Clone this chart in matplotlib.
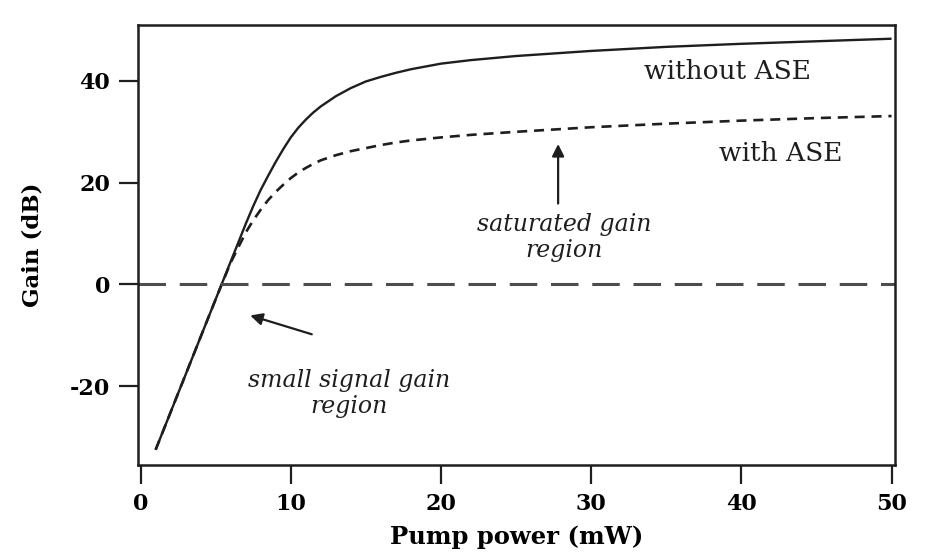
import matplotlib
matplotlib.use("Agg")
import matplotlib.pyplot as plt

# Pump power (mW) and gain (dB) for the two amplifier models
pump_mw = [1, 2, 3, 4, 5, 6, 7, 7.5, 8, 8.5, 9, 9.5, 10, 10.5, 11, 11.5, 12, 13, 14, 15,
           16, 17, 18, 20, 22, 25, 30, 35, 40, 45, 50]
gain_without_ase = [-32.5, -25.1, -17.7, -10.3, -2.9, 4.5, 11.9, 15.4, 18.6, 21.4, 24.1,
                    26.6, 28.9, 30.8, 32.4, 33.8, 35.0, 37.0, 38.6, 39.9, 40.8, 41.6,
                    42.3, 43.4, 44.1, 44.9, 45.9, 46.7, 47.3, 47.8, 48.3]
gain_with_ase = [-32.5, -25.1, -17.7, -10.3, -2.9, 4.3, 10.2, 12.6, 14.7, 16.6, 18.2,
                 19.6, 20.9, 22.0, 22.9, 23.7, 24.4, 25.4, 26.2, 26.8, 27.4, 27.9,
                 28.3, 28.9, 29.4, 30.0, 30.9, 31.6, 32.2, 32.7, 33.1]

x_ticks = [0, 10, 20, 30, 40, 50]
y_ticks = [-20, 0, 20, 40]

ink = "#1e1e1e"
serif = ["DejaVu Serif"]

fig = plt.figure(figsize=(9.5, 5.54), dpi=100)
ax = fig.add_axes([0.1453, 0.1606, 0.7968, 0.7943])

ax.plot(pump_mw, gain_without_ase, color=ink, lw=1.7, solid_capstyle="butt")
ax.plot(pump_mw, gain_with_ase, color=ink, lw=1.9, linestyle=(0, (3.8, 2.6)))
ax.axhline(0, color="#4d4d4d", lw=2.2, linestyle=(0, (9, 4.5)))

ax.set_xlim(-0.17, 50.23)
ax.set_ylim(-35.5, 51)
ax.set_xticks(x_ticks)
ax.set_yticks(y_ticks)
ax.set_xticklabels([str(v) for v in x_ticks], fontfamily=serif, fontweight="bold", fontsize=16)
ax.set_yticklabels([str(v) for v in y_ticks], fontfamily=serif, fontweight="bold", fontsize=16)
ax.tick_params(direction="out", length=14, width=1.6, color=ink, pad=6)

for s in ax.spines.values():
    s.set_linewidth(1.8)
    s.set_color(ink)

ax.set_xlabel("Pump power (mW)", fontfamily=serif, fontweight="bold", fontsize=17.5, labelpad=7)
ax.set_ylabel("Gain (dB)", fontfamily=serif, fontweight="bold", fontsize=16.5, labelpad=19)

ax.text(39.1, 41.9, "without ASE", fontfamily=serif, fontsize=19, ha="center", va="center", color=ink)
ax.text(42.6, 25.8, "with ASE", fontfamily=serif, fontsize=19, ha="center", va="center", color=ink)

ax.text(13.9, -21.5, "small signal gain\nregion", fontfamily=serif, style="italic", fontsize=17,
        ha="center", va="center", linespacing=1.15, color=ink)
ax.text(28.2, 9.25, "saturated gain\nregion", fontfamily=serif, style="italic", fontsize=17,
        ha="center", va="center", linespacing=1.15, color=ink)

arrow = dict(arrowstyle="-|>", color=ink, lw=1.6, mutation_scale=18, shrinkA=0, shrinkB=0)
ax.annotate("", xy=(7.3, -6.1), xytext=(11.4, -9.8), arrowprops=arrow)
ax.annotate("", xy=(27.8, 27.6), xytext=(27.8, 15.9), arrowprops=arrow)

fig.savefig("out.png", dpi=100, facecolor="white")
